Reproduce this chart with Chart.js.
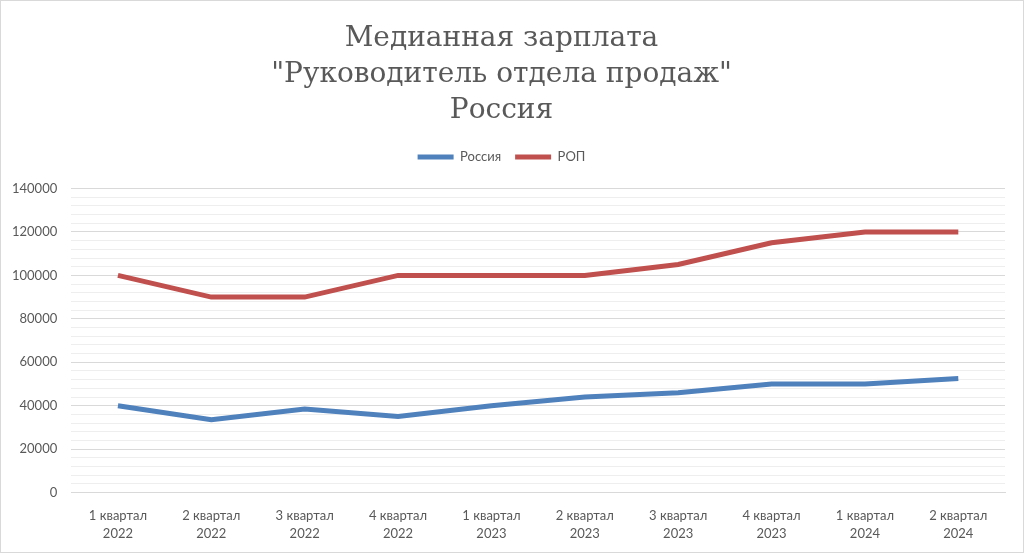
<!DOCTYPE html>
<html>
<head>
<meta charset="utf-8">
<script src="https://cdn.jsdelivr.net/npm/chart.js@4"></script>
<style>
  html, body { margin: 0; padding: 0; background: #fff; }
  #wrap { position: absolute; left: 0; top: 0; width: 1024px; height: 553px; box-sizing: border-box; border: 1px solid #d9d9d9; }
</style>
</head>
<body>
<div id="wrap"><canvas id="myChart"></canvas></div>
<script>
const quarters = [
    ['1 квартал', '2022'], ['2 квартал', '2022'], ['3 квартал', '2022'], ['4 квартал', '2022'],
    ['1 квартал', '2023'], ['2 квартал', '2023'], ['3 квартал', '2023'], ['4 квартал', '2023'],
    ['1 квартал', '2024'], ['2 квартал', '2024']
];
const russia = [40000, 33500, 38500, 35000, 40000, 44000, 46000, 50000, 50000, 52500];
const rop = [100000, 90000, 90000, 100000, 100000, 100000, 105000, 115000, 120000, 120000];
const titleLines = ['Медианная зарплата', '"Руководитель отдела продаж"', 'Россия'];

const labelFont = "Lato, 'Open Sans', sans-serif";

// extra room under the legend, like the Excel original
const legendGap = {
    id: 'legendGap',
    beforeInit(chart) {
        const fit = chart.legend.fit;
        chart.legend.fit = function() {
            fit.bind(chart.legend)();
            this.height += 15;
        };
    }
};

const ctx = document.getElementById('myChart').getContext('2d');
const chart = new Chart(ctx, {
    type: 'line',
    data: {
        labels: quarters,
        datasets: [{
            label: 'Россия',
            data: russia,
            borderColor: '#4f81bd',
            backgroundColor: '#4f81bd',
            borderWidth: 5,
            pointRadius: 0,
            tension: 0,
            fill: false
        }, {
            label: 'РОП',
            data: rop,
            borderColor: '#c0504d',
            backgroundColor: '#c0504d',
            borderWidth: 5,
            pointRadius: 0,
            tension: 0,
            fill: false
        }]
    },
    options: {
        responsive: true,
        maintainAspectRatio: false,
        animation: false,
        layout: { padding: { left: -3, right: 18, top: 6, bottom: 3 } },
        plugins: {
            title: {
                display: true,
                text: titleLines,
                color: '#595959',
                font: { family: "'DejaVu Serif', serif", size: 28, weight: 'normal', lineHeight: 1.28 },
                padding: { top: 14, bottom: 8 }
            },
            legend: {
                display: true,
                position: 'top',
                labels: {
                    color: '#595959',
                    font: { family: labelFont, size: 13 },
                    usePointStyle: true,
                    pointStyle: 'line',
                    pointStyleWidth: 36,
                    boxHeight: 5,
                    padding: 14
                }
            },
            tooltip: { enabled: false }
        },
        scales: {
            x: {
                offset: true,
                grid: { display: false },
                border: { display: true, color: '#d9d9d9' },
                ticks: {
                    color: '#595959',
                    font: { family: labelFont, size: 13, lineHeight: 1.4 },
                    maxRotation: 0,
                    padding: 6
                }
            },
            y: {
                min: 0,
                max: 140000,
                border: { display: false },
                grid: {
                    drawTicks: false,
                    color: function(c) {
                        return c.tick && c.tick.value % 20000 === 0 ? '#d9d9d9' : '#eeeeee';
                    }
                },
                ticks: {
                    stepSize: 4000,
                    autoSkip: false,
                    color: '#595959',
                    font: { family: labelFont, size: 13 },
                    padding: 14,
                    callback: function(value) {
                        return value % 20000 === 0 ? String(value) : '';
                    }
                }
            }
        }
    },
    plugins: [legendGap]
});
</script>
</body>
</html>
